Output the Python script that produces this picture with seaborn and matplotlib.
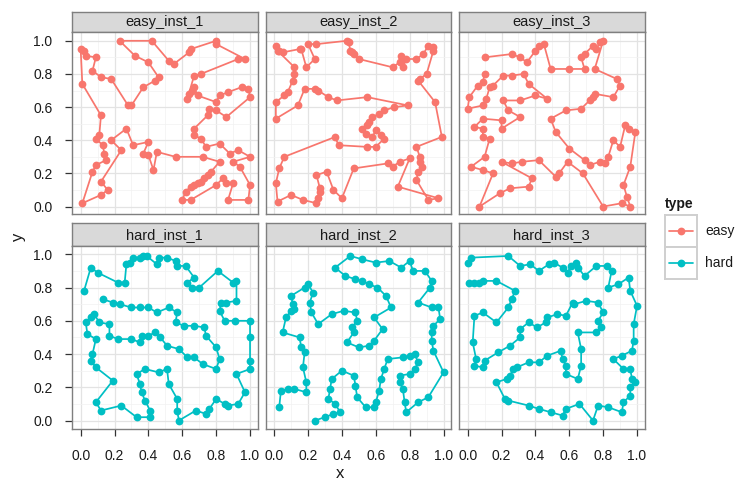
import pandas as pd
import seaborn as sns
import matplotlib.pyplot as plt
from matplotlib.lines import Line2D

# tour coordinates, in tour order
easy1_x = [0.00, 0.01, 0.12, 0.11, 0.09, 0.13, 0.14, 0.15, 0.09, 0.07, 0.01, 0.12, 0.16, 0.12, 0.24, 0.18,
           0.27, 0.31, 0.40, 0.37, 0.40, 0.43, 0.45, 0.56, 0.72, 0.82, 0.77, 0.75, 0.73, 0.71, 0.69, 0.67,
           0.65, 0.62, 0.60, 0.65, 0.80, 0.84, 0.86, 0.90, 0.87, 0.99, 1.00, 0.94, 0.90, 1.00, 0.93, 0.88,
           0.82, 0.74, 0.71, 0.67, 0.67, 0.75, 0.76, 0.80, 0.86, 1.00, 0.99, 0.95, 0.87, 0.82, 0.80, 0.69,
           0.67, 0.66, 0.64, 0.63, 0.67, 0.71, 0.93, 0.97, 0.80, 0.80, 0.65, 0.64, 0.55, 0.52, 0.42, 0.23,
           0.32, 0.40, 0.46, 0.44, 0.37, 0.30, 0.28, 0.18, 0.12, 0.07, 0.09, 0.03, 0.02]
easy1_y = [0.95, 0.74, 0.55, 0.43, 0.41, 0.37, 0.32, 0.28, 0.25, 0.21, 0.02, 0.07, 0.10, 0.15, 0.34, 0.40,
           0.47, 0.37, 0.39, 0.32, 0.31, 0.22, 0.33, 0.30, 0.30, 0.27, 0.21, 0.19, 0.17, 0.15, 0.14, 0.13,
           0.12, 0.09, 0.04, 0.04, 0.13, 0.17, 0.14, 0.14, 0.04, 0.04, 0.13, 0.24, 0.27, 0.30, 0.34, 0.32,
           0.38, 0.36, 0.41, 0.43, 0.47, 0.55, 0.59, 0.58, 0.54, 0.66, 0.71, 0.72, 0.69, 0.67, 0.63, 0.67,
           0.72, 0.70, 0.68, 0.65, 0.79, 0.80, 0.89, 0.89, 0.98, 1.00, 0.95, 0.93, 0.86, 0.88, 1.00, 1.00,
           0.91, 0.87, 0.78, 0.76, 0.72, 0.61, 0.61, 0.77, 0.78, 0.82, 0.90, 0.91, 0.94]

easy2_x = [0.01, 0.03, 0.05, 0.15, 0.16, 0.19, 0.24, 0.20, 0.25, 0.43, 0.44, 0.45, 0.46, 0.47, 0.50, 0.70,
           0.74, 0.75, 0.76, 0.78, 0.84, 0.88, 0.91, 0.94, 0.94, 0.90, 0.86, 0.85, 0.95, 0.99, 0.84, 0.86,
           0.86, 0.87, 0.85, 0.84, 0.91, 0.97, 0.73, 0.80, 0.74, 0.70, 0.67, 0.47, 0.40, 0.35, 0.31, 0.25,
           0.27, 0.27, 0.26, 0.25, 0.17, 0.10, 0.02, 0.01, 0.03, 0.06, 0.36, 0.38, 0.55, 0.60, 0.65, 0.63,
           0.60, 0.58, 0.54, 0.52, 0.55, 0.56, 0.58, 0.62, 0.65, 0.71, 0.79, 0.55, 0.37, 0.32, 0.26, 0.24,
           0.18, 0.14, 0.01, 0.01, 0.06, 0.08, 0.11, 0.12, 0.12, 0.02]
easy2_y = [0.97, 0.94, 0.93, 0.95, 0.95, 0.84, 0.89, 0.98, 0.98, 1.00, 0.99, 0.94, 0.93, 0.92, 0.89, 0.84,
           0.87, 0.91, 0.84, 0.89, 0.89, 0.92, 0.97, 0.96, 0.94, 0.80, 0.77, 0.76, 0.63, 0.42, 0.36, 0.30,
           0.27, 0.24, 0.21, 0.16, 0.04, 0.05, 0.12, 0.29, 0.27, 0.24, 0.26, 0.23, 0.05, 0.10, 0.21, 0.19,
           0.11, 0.09, 0.05, 0.02, 0.04, 0.07, 0.03, 0.14, 0.23, 0.30, 0.42, 0.37, 0.36, 0.36, 0.41, 0.43,
           0.46, 0.42, 0.44, 0.47, 0.49, 0.51, 0.54, 0.56, 0.58, 0.60, 0.61, 0.66, 0.64, 0.66, 0.70, 0.71,
           0.71, 0.61, 0.53, 0.63, 0.67, 0.69, 0.76, 0.80, 0.84, 0.94]

easy3_x = [0.10, 0.26, 0.31, 0.35, 0.40, 0.42, 0.45, 0.49, 0.60, 0.69, 0.67, 0.69, 0.74, 0.76, 0.78, 0.80,
           0.75, 0.88, 0.90, 0.86, 0.75, 0.74, 0.72, 0.67, 0.58, 0.49, 0.52, 0.60, 0.69, 0.72, 0.78, 0.81,
           0.83, 0.86, 0.90, 0.93, 0.95, 0.99, 0.96, 0.92, 0.94, 0.96, 0.91, 0.80, 0.68, 0.59, 0.54, 0.52,
           0.42, 0.32, 0.26, 0.20, 0.38, 0.36, 0.25, 0.19, 0.07, 0.15, 0.09, 0.02, 0.10, 0.13, 0.09, 0.09,
           0.04, 0.09, 0.20, 0.20, 0.31, 0.24, 0.21, 0.31, 0.40, 0.47, 0.36, 0.33, 0.26, 0.21, 0.15, 0.13,
           0.11, 0.09, 0.00, 0.01, 0.06, 0.09, 0.10]
easy3_y = [0.90, 0.92, 0.90, 0.87, 0.94, 0.97, 0.98, 0.83, 0.83, 0.83, 0.90, 0.92, 0.97, 0.95, 0.99, 1.00,
           0.83, 0.77, 0.73, 0.66, 0.68, 0.66, 0.64, 0.59, 0.58, 0.53, 0.45, 0.35, 0.28, 0.25, 0.27, 0.26,
           0.30, 0.40, 0.36, 0.49, 0.47, 0.45, 0.24, 0.13, 0.06, 0.00, 0.02, 0.00, 0.20, 0.27, 0.20, 0.18,
           0.28, 0.27, 0.26, 0.27, 0.17, 0.12, 0.11, 0.08, 0.00, 0.20, 0.22, 0.24, 0.30, 0.41, 0.42, 0.47,
           0.48, 0.53, 0.52, 0.47, 0.54, 0.58, 0.64, 0.64, 0.67, 0.65, 0.74, 0.80, 0.79, 0.79, 0.73, 0.72,
           0.65, 0.61, 0.59, 0.66, 0.73, 0.75, 0.80]

hard1_x = [0.02, 0.06, 0.10, 0.22, 0.26, 0.27, 0.29, 0.31, 0.35, 0.37, 0.39, 0.45, 0.46, 0.51, 0.56, 0.57,
           0.62, 0.67, 0.63, 0.66, 0.70, 0.81, 0.90, 0.92, 0.92, 0.86, 0.83, 0.82, 0.85, 0.91, 1.00, 1.00,
           1.00, 1.00, 0.92, 0.97, 0.93, 0.87, 0.85, 0.80, 0.76, 0.74, 0.68, 0.58, 0.57, 0.57, 0.52, 0.51,
           0.46, 0.38, 0.33, 0.35, 0.36, 0.38, 0.41, 0.41, 0.33, 0.24, 0.12, 0.09, 0.19, 0.09, 0.06, 0.07,
           0.09, 0.04, 0.03, 0.06, 0.08, 0.11, 0.17, 0.17, 0.22, 0.30, 0.35, 0.36, 0.40, 0.44, 0.47, 0.51,
           0.58, 0.63, 0.67, 0.72, 0.80, 0.82, 0.80, 0.74, 0.73, 0.67, 0.61, 0.56, 0.57, 0.52, 0.45, 0.40,
           0.35, 0.30, 0.23, 0.19, 0.13]
hard1_y = [0.78, 0.92, 0.89, 0.83, 0.83, 0.94, 0.95, 0.98, 0.98, 0.99, 0.99, 0.94, 0.98, 0.98, 0.96, 0.93,
           0.93, 0.86, 0.83, 0.80, 0.80, 0.90, 0.83, 0.84, 0.72, 0.71, 0.71, 0.66, 0.60, 0.60, 0.60, 0.50,
           0.36, 0.31, 0.28, 0.17, 0.10, 0.09, 0.10, 0.13, 0.07, 0.04, 0.06, 0.00, 0.06, 0.13, 0.22, 0.31,
           0.29, 0.31, 0.28, 0.22, 0.17, 0.12, 0.06, 0.02, 0.02, 0.09, 0.06, 0.11, 0.24, 0.32, 0.36, 0.40,
           0.49, 0.52, 0.59, 0.62, 0.64, 0.59, 0.58, 0.51, 0.49, 0.49, 0.47, 0.51, 0.51, 0.53, 0.50, 0.45,
           0.43, 0.38, 0.38, 0.34, 0.31, 0.37, 0.44, 0.51, 0.56, 0.57, 0.57, 0.59, 0.65, 0.68, 0.65, 0.68,
           0.68, 0.68, 0.70, 0.71, 0.73]

hard2_x = [0.03, 0.04, 0.08, 0.12, 0.19, 0.19, 0.17, 0.18, 0.16, 0.15, 0.05, 0.07, 0.10, 0.12, 0.11, 0.10,
           0.18, 0.20, 0.23, 0.21, 0.22, 0.26, 0.34, 0.41, 0.48, 0.49, 0.46, 0.47, 0.43, 0.50, 0.56, 0.59,
           0.64, 0.59, 0.69, 0.66, 0.61, 0.56, 0.52, 0.48, 0.42, 0.36, 0.45, 0.52, 0.60, 0.68, 0.75, 0.80,
           0.82, 0.89, 0.93, 0.92, 0.85, 0.93, 0.97, 0.98, 0.94, 0.93, 0.93, 0.94, 1.00, 0.91, 0.85, 0.78,
           0.77, 0.76, 0.74, 0.74, 0.80, 0.83, 0.85, 0.83, 0.80, 0.76, 0.67, 0.65, 0.63, 0.62, 0.60, 0.59,
           0.54, 0.49, 0.48, 0.47, 0.40, 0.34, 0.33, 0.32, 0.36, 0.39, 0.35, 0.30, 0.24]
hard2_y = [0.08, 0.18, 0.19, 0.19, 0.17, 0.23, 0.32, 0.41, 0.44, 0.50, 0.53, 0.62, 0.66, 0.67, 0.70, 0.75,
           0.80, 0.82, 0.77, 0.71, 0.65, 0.58, 0.64, 0.66, 0.65, 0.60, 0.56, 0.53, 0.47, 0.44, 0.45, 0.48,
           0.55, 0.62, 0.68, 0.75, 0.80, 0.82, 0.84, 0.85, 0.87, 0.92, 0.99, 0.97, 0.95, 0.96, 0.92, 0.96,
           0.90, 0.90, 0.84, 0.80, 0.71, 0.68, 0.68, 0.61, 0.57, 0.53, 0.48, 0.42, 0.29, 0.14, 0.11, 0.05,
           0.11, 0.19, 0.23, 0.27, 0.28, 0.31, 0.35, 0.40, 0.39, 0.38, 0.37, 0.31, 0.25, 0.18, 0.11, 0.08,
           0.08, 0.14, 0.21, 0.27, 0.30, 0.25, 0.19, 0.13, 0.10, 0.05, 0.04, 0.02, 0.00]

hard3_x = [0.00, 0.02, 0.24, 0.31, 0.37, 0.42, 0.48, 0.51, 0.56, 0.59, 0.61, 0.64, 0.65, 0.69, 0.76, 0.82,
           0.85, 0.83, 0.89, 0.95, 0.96, 1.00, 0.98, 0.98, 0.97, 0.91, 0.86, 0.92, 0.96, 0.97, 0.99, 0.96,
           0.96, 0.92, 0.91, 0.83, 0.77, 0.74, 0.66, 0.58, 0.56, 0.49, 0.42, 0.36, 0.24, 0.22, 0.17, 0.23,
           0.25, 0.27, 0.29, 0.36, 0.42, 0.47, 0.55, 0.56, 0.58, 0.58, 0.65, 0.67, 0.67, 0.65, 0.76, 0.79,
           0.77, 0.80, 0.77, 0.70, 0.63, 0.62, 0.58, 0.53, 0.47, 0.46, 0.41, 0.36, 0.31, 0.31, 0.25, 0.18,
           0.10, 0.09, 0.04, 0.05, 0.03, 0.04, 0.09, 0.17, 0.24, 0.26, 0.28, 0.17, 0.09, 0.07, 0.04, 0.01]
hard3_y = [0.95, 0.98, 0.99, 0.93, 0.94, 0.90, 0.94, 0.95, 0.92, 0.89, 0.93, 0.95, 0.92, 0.87, 0.93, 0.93,
           0.90, 0.80, 0.82, 0.86, 0.78, 0.69, 0.58, 0.48, 0.42, 0.39, 0.37, 0.31, 0.31, 0.25, 0.23, 0.20,
           0.15, 0.11, 0.05, 0.08, 0.09, 0.00, 0.10, 0.07, 0.03, 0.05, 0.07, 0.09, 0.12, 0.13, 0.23, 0.25,
           0.27, 0.31, 0.32, 0.35, 0.35, 0.39, 0.42, 0.37, 0.33, 0.28, 0.25, 0.33, 0.43, 0.53, 0.53, 0.56,
           0.60, 0.65, 0.71, 0.72, 0.70, 0.71, 0.63, 0.64, 0.62, 0.59, 0.56, 0.59, 0.55, 0.50, 0.45, 0.41,
           0.36, 0.32, 0.33, 0.37, 0.47, 0.63, 0.65, 0.59, 0.68, 0.73, 0.78, 0.84, 0.84, 0.83, 0.83, 0.83]

instances = ["easy_inst_1", "easy_inst_2", "easy_inst_3", "hard_inst_1", "hard_inst_2", "hard_inst_3"]
xs = [easy1_x, easy2_x, easy3_x, hard1_x, hard2_x, hard3_x]
ys = [easy1_y, easy2_y, easy3_y, hard1_y, hard2_y, hard3_y]
tick_labels = ["0.0", "0.2", "0.4", "0.6", "0.8", "1.0"]

frames = []
for name, x, y in zip(instances, xs, ys):
    frames.append(pd.DataFrame({"x": x, "y": y, "instance": name,
                                "type": name.split("_")[0], "step": range(len(x))}))
df = pd.concat(frames, ignore_index=True)

palette = {"easy": "#F8766D", "hard": "#00BFC4"}

sns.set_theme(style="white")
plt.rcParams["font.family"] = ["Liberation Sans", "DejaVu Sans"]

W, H = 737, 484
fig = plt.figure(figsize=(W / 100, H / 100), dpi=100)


def rect(left, top, right, bottom):
    return [left / W, 1 - bottom / H, (right - left) / W, (bottom - top) / H]


cols = [(72, 257.5), (265.5, 451), (459, 644.5)]
rows = [(11.5, 32, 214.5), (223, 245.5, 428.5)]
border = "#7F7F7F"
ticks = [0, 0.2, 0.4, 0.6, 0.8, 1.0]
minor = [0.1, 0.3, 0.5, 0.7, 0.9]
msize, lwidth = 5.6, 1.25

for i, name in enumerate(instances):
    r, c = divmod(i, 3)
    st, pt, pb = rows[r]
    pl, pr = cols[c]

    # strip on top of the panel
    sax = fig.add_axes(rect(pl, st, pr, pt))
    sax.set_facecolor("#D9D9D9")
    sax.set_xticks([])
    sax.set_yticks([])
    for s in sax.spines.values():
        s.set_color(border)
        s.set_linewidth(1.0)
    sax.text(0.5, 0.47, name, ha="center", va="center", fontsize=10.5,
             color="#1A1A1A", transform=sax.transAxes)

    ax = fig.add_axes(rect(pl, pt, pr, pb))
    sub = df[df["instance"] == name]
    sns.lineplot(data=sub, x="x", y="y", sort=False, estimator=None,
                 color=palette[sub["type"].iloc[0]], marker="o", markersize=msize,
                 markeredgewidth=0, linewidth=lwidth, ax=ax, zorder=3)
    ax.set_xlim(-0.051, 1.044)
    ax.set_ylim(-0.048, 1.053)
    ax.set_xticks(ticks)
    ax.set_yticks(ticks)
    ax.set_xticks(minor, minor=True)
    ax.set_yticks(minor, minor=True)
    ax.grid(True, which="major", color="#E3E3E3", linewidth=0.9, zorder=0)
    ax.grid(True, which="minor", color="#F2F2F2", linewidth=0.5, zorder=0)
    ax.set_axisbelow(True)
    ax.set_facecolor("white")
    for s in ax.spines.values():
        s.set_color(border)
        s.set_linewidth(1.0)
    ax.set_xlabel("")
    ax.set_ylabel("")
    ax.tick_params(which="minor", length=0)
    ax.tick_params(which="major", length=5, width=0.9, color="#333333",
                   labelsize=10, labelcolor="#1A1A1A",
                   bottom=(r == 1), left=(c == 0),
                   labelbottom=(r == 1), labelleft=(c == 0))
    ax.tick_params(axis="x", pad=10)
    ax.tick_params(axis="y", pad=9)
    if r == 1:
        ax.set_xticklabels(tick_labels)
    if c == 0:
        ax.set_yticklabels(tick_labels)

# axis titles
fig.text(340 / W, 1 - 474 / H, "x", ha="center", va="center", fontsize=12, color="#1A1A1A")
fig.text(18 / W, 1 - 237 / H, "y", ha="center", va="center", fontsize=12,
         rotation=90, color="#1A1A1A")

# legend
fig.text(665 / W, 1 - 204 / H, "type", ha="left", va="center", fontsize=10,
         fontweight="bold", color="#1A1A1A")
for label, top in [("easy", 215), ("hard", 247)]:
    kax = fig.add_axes(rect(665, top, 697, top + 32))
    kax.set_xlim(0, 1)
    kax.set_ylim(0, 1)
    kax.set_xticks([])
    kax.set_yticks([])
    kax.set_facecolor("white")
    for s in kax.spines.values():
        s.set_color("#CFCFCF")
        s.set_linewidth(1.4)
    kax.add_line(Line2D([0.12, 0.88], [0.5, 0.5], color=palette[label], linewidth=lwidth))
    kax.plot([0.5], [0.5], "o", color=palette[label], markersize=msize, markeredgewidth=0)
    fig.text(705 / W, 1 - (top + 16) / H, label, ha="left", va="center",
             fontsize=10, color="#1A1A1A")

fig.savefig("out.png", dpi=100)
